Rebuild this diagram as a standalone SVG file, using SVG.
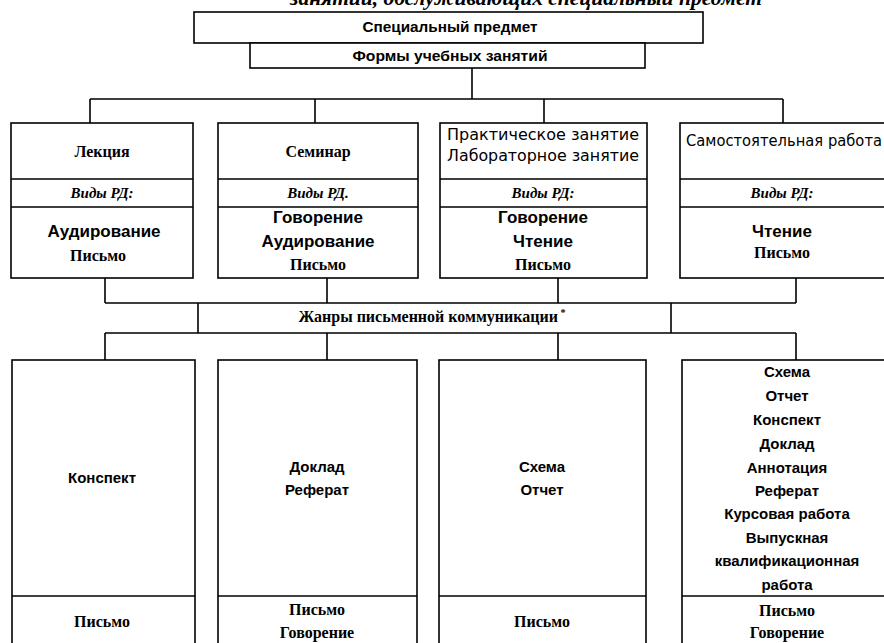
<svg xmlns="http://www.w3.org/2000/svg" width="884" height="643" viewBox="0 0 884 643">
<style>
.box{fill:#fff;stroke:#000;stroke-width:1.6}
.ln{fill:none;stroke:#000;stroke-width:1.6}
text{fill:#000;text-anchor:middle}
.t{font-family:"Liberation Sans","DejaVu Sans",sans-serif;font-size:15px;font-weight:600}
.s{font-family:"DejaVu Sans","Liberation Sans",sans-serif;font-size:15px}
.sb{font-family:"Liberation Sans","DejaVu Sans",sans-serif;font-size:15px;font-weight:bold}
.m{font-family:"Liberation Sans","DejaVu Sans",sans-serif;font-size:17px;font-weight:600}
.r{font-family:"Liberation Serif",serif;font-size:16px;font-weight:bold}
.ri{font-family:"Liberation Serif",serif;font-size:15px;font-weight:bold;font-style:italic}
</style>
<rect width="884" height="643" fill="#fff"/>
<text x="526" y="5" font-family="Liberation Serif, serif" font-size="22" font-style="italic" font-weight="bold" textLength="472" lengthAdjust="spacingAndGlyphs">занятий, обслуживающих специальный предмет</text>

<g id="connectors" class="ln">
<path d="M472 68V99M90 99H783M90 99V123M315 99V123M544 99V123M783 99V123"/>
<path d="M105 278V303M327 278V303M558 278V303M796 278V303M105 303H796M198 303V333M671 303V333M105 333H796"/>
<path d="M105 333V360M327 333V360M558 333V360M796 333V360"/>
</g>

<g id="subject">
<rect class="box" x="194" y="12" width="509" height="31"/>
<text class="t" x="450" y="32" textLength="175" lengthAdjust="spacingAndGlyphs">Специальный предмет</text>
</g>
<g id="forms">
<rect class="box" x="250" y="43" width="395" height="25"/>
<text class="t" x="450" y="61" textLength="195" lengthAdjust="spacingAndGlyphs">Формы учебных занятий</text>
</g>

<g id="lecture">
<rect class="box" x="11" y="123" width="182" height="155"/>
<path class="ln" d="M11 179H193M11 207H193"/>
<text class="r" x="102" y="157">Лекция</text>
<text class="ri" x="102" y="198">Виды РД:</text>
<text class="m" x="104" y="237">Аудирование</text>
<text class="r" x="98" y="261">Письмо</text>
</g>

<g id="seminar">
<rect class="box" x="218" y="123" width="200" height="155"/>
<path class="ln" d="M218 179H418M218 207H418"/>
<text class="r" x="318" y="157">Семинар</text>
<text class="ri" x="318" y="198">Виды РД.</text>
<text class="m" x="318" y="223">Говорение</text>
<text class="m" x="318" y="247">Аудирование</text>
<text class="r" x="318" y="270">Письмо</text>
</g>

<g id="practical">
<rect class="box" x="440" y="123" width="207" height="155"/>
<path class="ln" d="M440 179H647M440 207H647"/>
<text class="s" x="543" y="140" textLength="192" lengthAdjust="spacingAndGlyphs">Практическое занятие</text>
<text class="s" x="543" y="161" textLength="192" lengthAdjust="spacingAndGlyphs">Лабораторное занятие</text>
<text class="ri" x="543" y="198">Виды РД:</text>
<text class="m" x="543" y="223">Говорение</text>
<text class="m" x="543" y="247">Чтение</text>
<text class="r" x="543" y="270">Письмо</text>
</g>

<g id="selfwork">
<rect class="box" x="680" y="123" width="210" height="155"/>
<path class="ln" d="M680 179H890M680 207H890"/>
<text class="s" x="784" y="146" textLength="196" lengthAdjust="spacingAndGlyphs">Самостоятельная работа</text>
<text class="ri" x="782" y="198">Виды РД:</text>
<text class="m" x="782" y="237">Чтение</text>
<text class="r" x="782" y="258">Письмо</text>
</g>

<g id="genres">
<text class="r" x="432" y="322" font-size="16">Жанры письменной коммуникации<tspan font-size="10" dy="-6"> *</tspan></text>
</g>

<g id="genre-a">
<rect class="box" x="12" y="360" width="183" height="300"/>
<path class="ln" d="M12 596H195"/>
<text class="sb" x="102" y="483" font-size="16">Конспект</text>
<text class="r" x="102" y="627">Письмо</text>
</g>

<g id="genre-b">
<rect class="box" x="218" y="360" width="199" height="300"/>
<path class="ln" d="M218 596H417"/>
<text class="sb" x="317" y="472">Доклад</text>
<text class="sb" x="317" y="495">Реферат</text>
<text class="r" x="317" y="615">Письмо</text>
<text class="r" x="317" y="638">Говорение</text>
</g>

<g id="genre-c">
<rect class="box" x="439" y="360" width="207" height="300"/>
<path class="ln" d="M439 596H646"/>
<text class="sb" x="542" y="472">Схема</text>
<text class="sb" x="542" y="495">Отчет</text>
<text class="r" x="542" y="627">Письмо</text>
</g>

<g id="genre-d">
<rect class="box" x="682" y="360" width="208" height="300"/>
<path class="ln" d="M682 596H890"/>
<text class="sb" x="787" y="377">Схема</text>
<text class="sb" x="787" y="401">Отчет</text>
<text class="sb" x="787" y="425">Конспект</text>
<text class="sb" x="787" y="449">Доклад</text>
<text class="sb" x="787" y="473">Аннотация</text>
<text class="sb" x="787" y="496">Реферат</text>
<text class="sb" x="787" y="519">Курсовая работа</text>
<text class="sb" x="787" y="543">Выпускная</text>
<text class="sb" x="787" y="566">квалификационная</text>
<text class="sb" x="787" y="590">работа</text>
<text class="r" x="787" y="616">Письмо</text>
<text class="r" x="787" y="638">Говорение</text>
</g>
</svg>
